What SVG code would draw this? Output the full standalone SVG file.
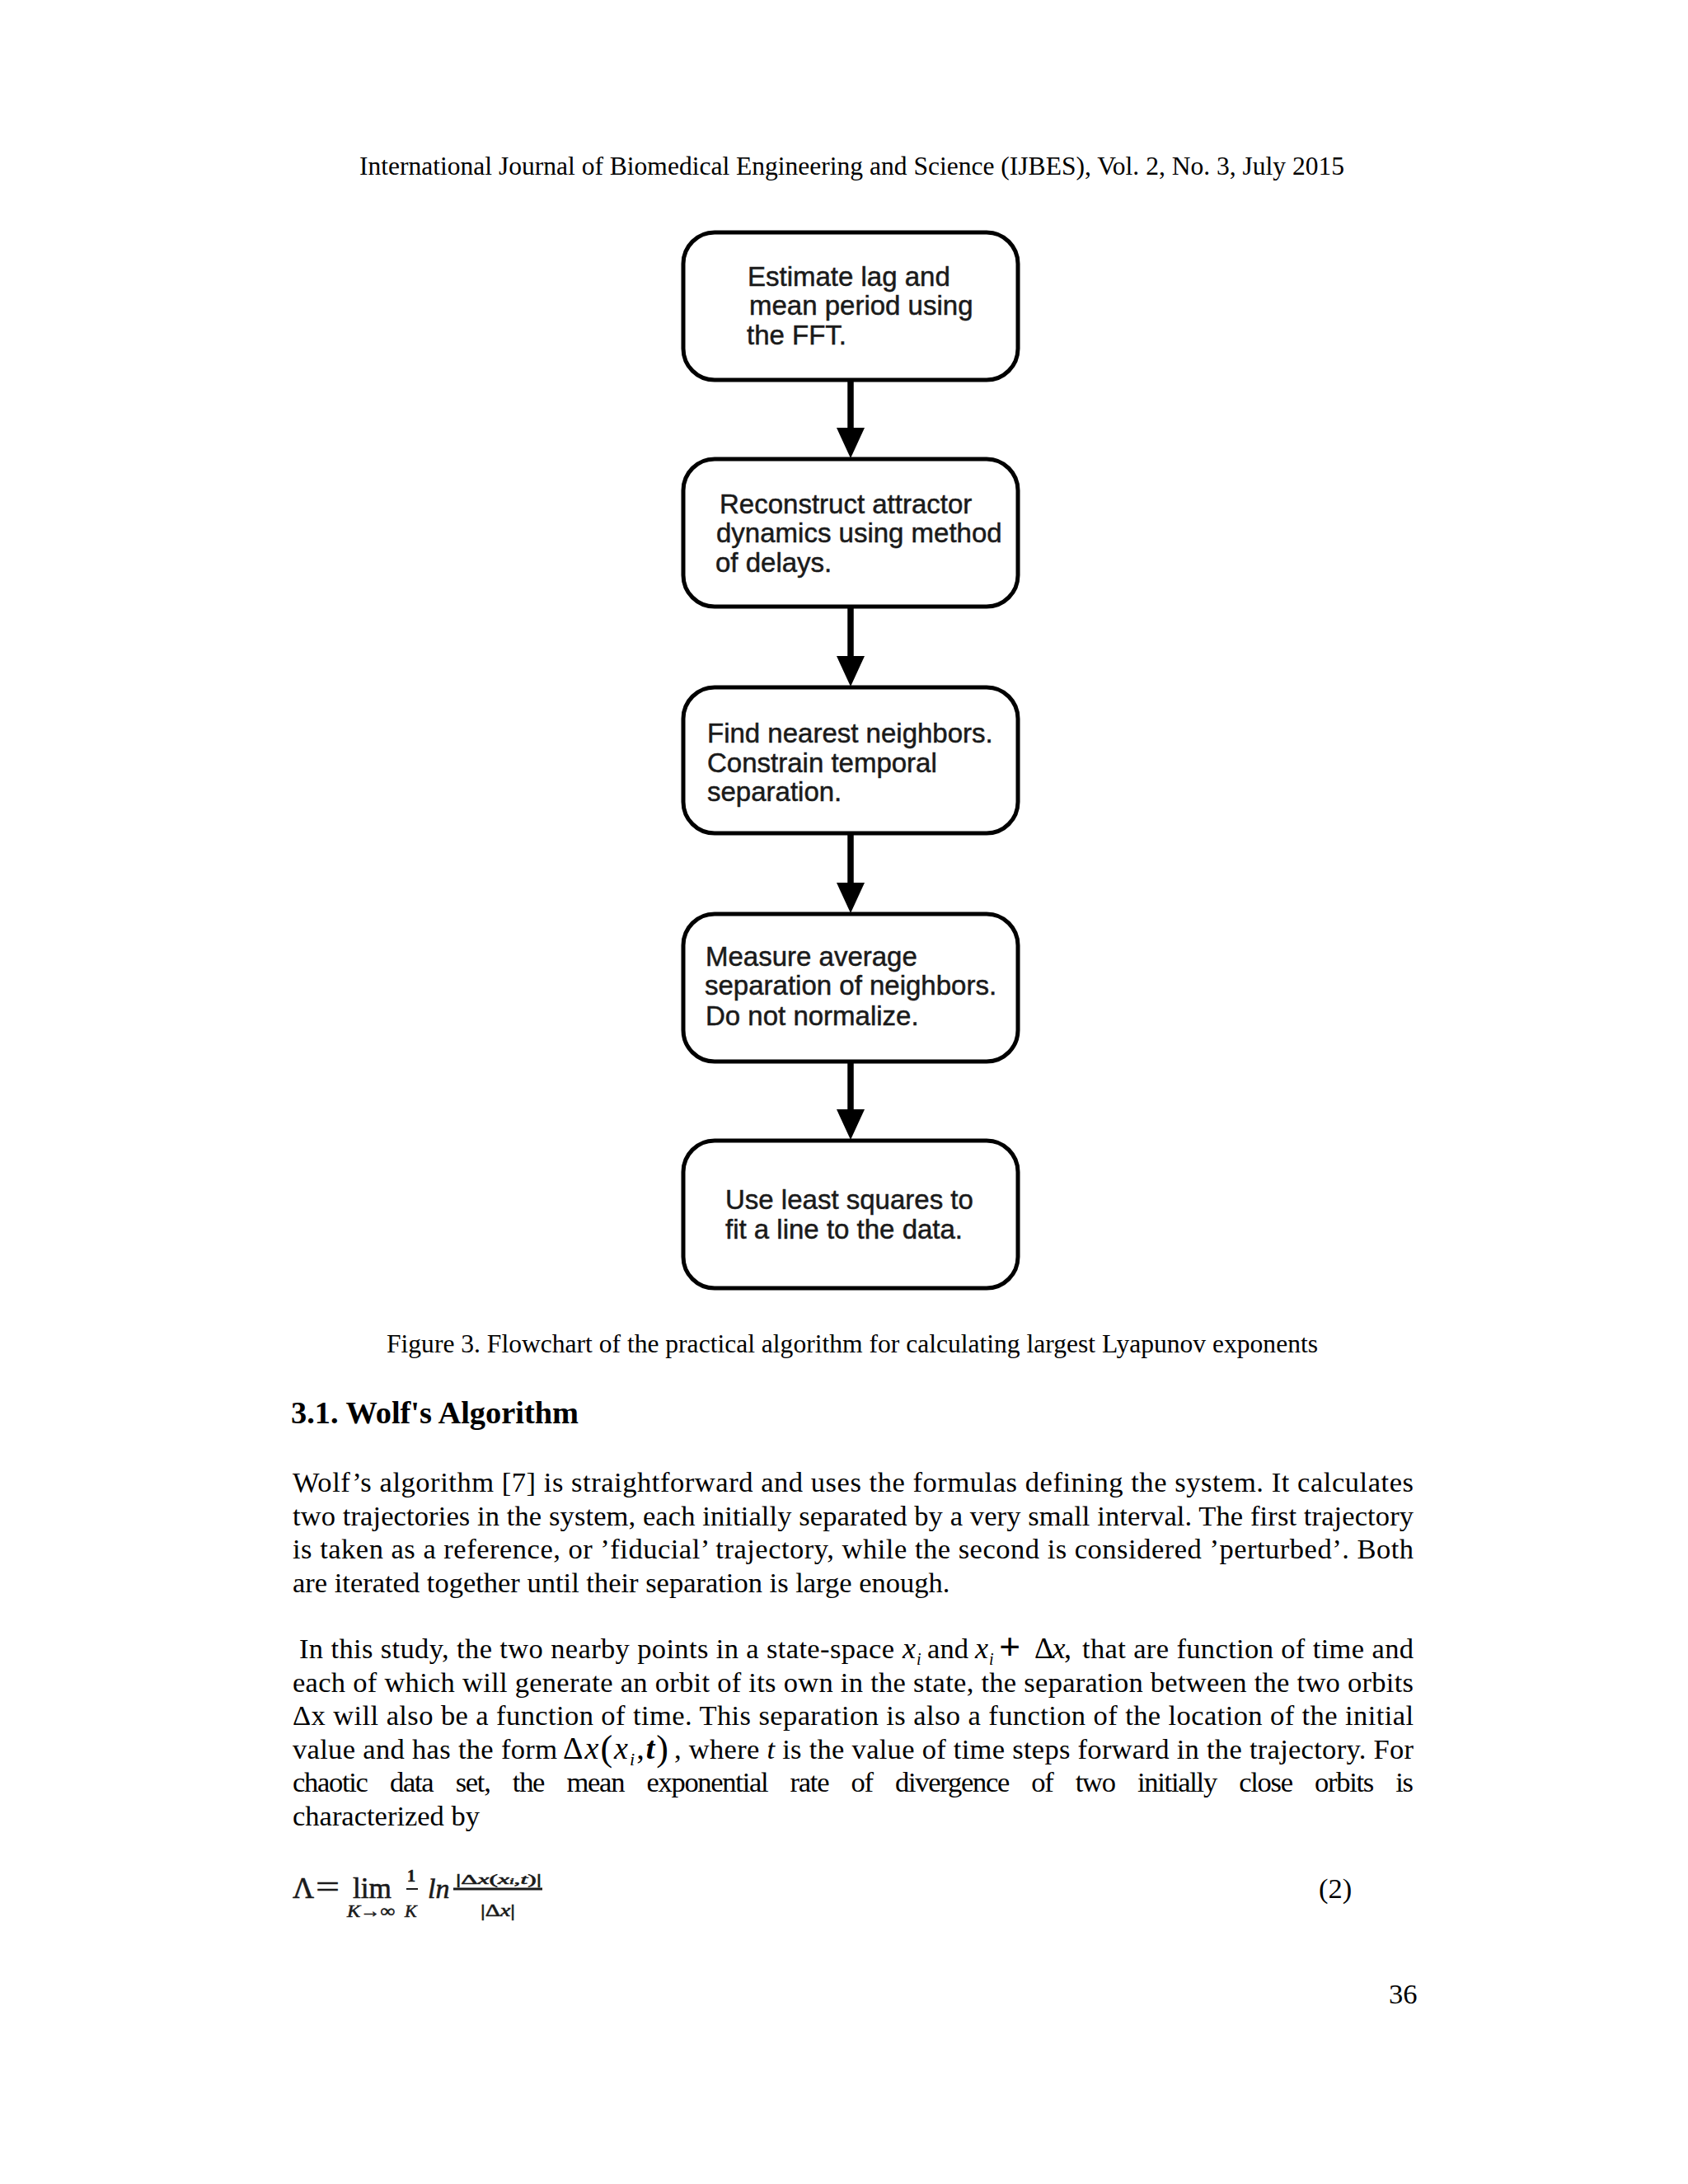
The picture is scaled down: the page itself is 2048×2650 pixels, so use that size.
<svg xmlns="http://www.w3.org/2000/svg" width="2048" height="2650" viewBox="0 0 2048 2650">
<style>
.box{fill:#fff;stroke:#000;stroke-width:5}
.bt{font-family:"Liberation Sans",Arial,sans-serif;font-size:33px;fill:#1a1a1a;stroke:#1a1a1a;stroke-width:0.5}
.shaft{stroke:#000;stroke-width:7.5;fill:none}
.head{fill:#000}
.tm{font-family:"Liberation Serif","Times New Roman",serif;fill:#000}
.body{font-size:34.5px}
.it{font-style:italic}
.mth{font-family:"Liberation Serif","Times New Roman",serif;fill:#1a1a1a;stroke:#1a1a1a;stroke-width:0.6}
</style>
<rect width="2048" height="2650" fill="#fff"/>
<text class="tm" x="436" y="212" font-size="31" textLength="1195" lengthAdjust="spacingAndGlyphs">International Journal of Biomedical Engineering and Science (IJBES), Vol. 2, No. 3, July 2015</text>

<g id="connectors">
<line class="shaft" x1="1032" y1="462" x2="1032" y2="521"/>
<polygon class="head" points="1015,519 1049,519 1032,556"/>
<line class="shaft" x1="1032" y1="737" x2="1032" y2="798"/>
<polygon class="head" points="1015,796 1049,796 1032,833"/>
<line class="shaft" x1="1032" y1="1012" x2="1032" y2="1073"/>
<polygon class="head" points="1015,1071 1049,1071 1032,1108"/>
<line class="shaft" x1="1032" y1="1289" x2="1032" y2="1348"/>
<polygon class="head" points="1015,1346 1049,1346 1032,1383"/>
</g>

<g id="node1">
<rect class="box" x="829" y="282" width="406" height="179" rx="38"/>
<text class="bt" x="907" y="347">Estimate lag and</text>
<text class="bt" x="909" y="382">mean period using</text>
<text class="bt" x="906" y="418">the FFT.</text>
</g>
<g id="node2">
<rect class="box" x="829" y="557" width="406" height="179" rx="38"/>
<text class="bt" x="873" y="623">Reconstruct attractor</text>
<text class="bt" x="869" y="658">dynamics using method</text>
<text class="bt" x="868" y="694">of delays.</text>
</g>
<g id="node3">
<rect class="box" x="829" y="834" width="406" height="177" rx="38"/>
<text class="bt" x="858" y="901">Find nearest neighbors.</text>
<text class="bt" x="858" y="937">Constrain temporal</text>
<text class="bt" x="858" y="972">separation.</text>
</g>
<g id="node4">
<rect class="box" x="829" y="1109" width="406" height="179" rx="38"/>
<text class="bt" x="856" y="1172">Measure average</text>
<text class="bt" x="855" y="1207">separation of neighbors.</text>
<text class="bt" x="856" y="1244">Do not normalize.</text>
</g>
<g id="node5">
<rect class="box" x="829" y="1384" width="406" height="179" rx="38"/>
<text class="bt" x="880" y="1467">Use least squares to</text>
<text class="bt" x="880" y="1503">fit a line to the data.</text>
</g>

<text class="tm" x="469" y="1641" font-size="31" textLength="1130" lengthAdjust="spacingAndGlyphs">Figure 3. Flowchart of the practical algorithm for calculating largest Lyapunov exponents</text>
<text class="tm" x="353" y="1727" font-size="37.5" font-weight="bold" textLength="349" lengthAdjust="spacingAndGlyphs">3.1. Wolf's Algorithm</text>

<g class="tm body">
<text x="355" y="1810" textLength="1360">Wolf’s algorithm [7] is straightforward and uses the formulas defining the system. It calculates</text>
<text x="355" y="1851" textLength="1360">two trajectories in the system, each initially separated by a very small interval. The first trajectory</text>
<text x="355" y="1891" textLength="1360">is taken as a reference, or ’fiducial’ trajectory, while the second is considered ’perturbed’. Both</text>
<text x="355" y="1932">are iterated together until their separation is large enough.</text>

<text x="363" y="2012" textLength="722">In this study, the two nearby points in a state-space</text>
<text class="it" x="1095" y="2012" font-size="36">x</text><text x="1112" y="2020" font-size="20" class="it">i</text>
<text x="1125" y="2012" textLength="50">and</text>
<text class="it" x="1183" y="2012" font-size="36">x</text><text x="1200" y="2020" font-size="20" class="it">i</text>
<text x="1212" y="2014" font-size="46" font-weight="bold">+</text>
<text x="1255" y="2012" font-size="36" textLength="45">Δ<tspan class="it">x</tspan>,</text>
<text x="1313" y="2012" textLength="402">that are function of time and</text>

<text x="355" y="2053" textLength="1360">each of which will generate an orbit of its own in the state, the separation between the two orbits</text>
<text x="355" y="2093" textLength="1360">Δx will also be a function of time. This separation is also a function of the location of the initial</text>
<text x="355" y="2134" textLength="321">value and has the form</text>
<text x="683" y="2134" font-size="38" textLength="128" lengthAdjust="spacing">Δ<tspan class="it">x</tspan><tspan font-size="44" dy="2">(</tspan><tspan class="it" dy="-2">x</tspan><tspan class="it" font-size="22" dy="8">i</tspan><tspan dy="-8">,</tspan><tspan class="it" font-weight="bold">t</tspan><tspan font-size="44" dy="2">)</tspan></text>
<text x="818" y="2134" textLength="897">, where <tspan class="it">t</tspan> is the value of time steps forward in the trajectory. For</text>
<text x="355" y="2174" textLength="1360" word-spacing="20">chaotic data set, the mean exponential rate of divergence of two initially close orbits is</text>
<text x="355" y="2215">characterized by</text>
</g>

<g class="mth">
<text x="355" y="2303" font-size="36">Λ</text>
<text x="383" y="2303" font-size="40" textLength="29" lengthAdjust="spacingAndGlyphs">=</text>
<text x="428" y="2303" font-size="35" textLength="47" lengthAdjust="spacingAndGlyphs">lim</text>
<text x="421" y="2326" font-size="22" class="it" textLength="58" lengthAdjust="spacingAndGlyphs">K→∞</text>
<text x="494" y="2283" font-size="20" font-weight="bold">1</text>
<line x1="493" y1="2292" x2="507" y2="2292" stroke-width="2"/>
<text x="491" y="2326" font-size="22" class="it">K</text>
<text x="519" y="2303" font-size="34" class="it">ln</text>
<line x1="550" y1="2292" x2="658" y2="2292" stroke-width="3"/>
<text x="553" y="2286" font-size="17" textLength="104" lengthAdjust="spacingAndGlyphs">|Δ<tspan class="it">x</tspan>(<tspan class="it">x</tspan><tspan font-size="11" class="it">i</tspan>,<tspan class="it">t</tspan>)|</text>
<text x="583" y="2325" font-size="20" textLength="42" lengthAdjust="spacingAndGlyphs">|Δ<tspan class="it">x</tspan>|</text>
</g>
<text class="tm body" x="1600" y="2303">(2)</text>
<text class="tm body" x="1685" y="2431">36</text>
</svg>
